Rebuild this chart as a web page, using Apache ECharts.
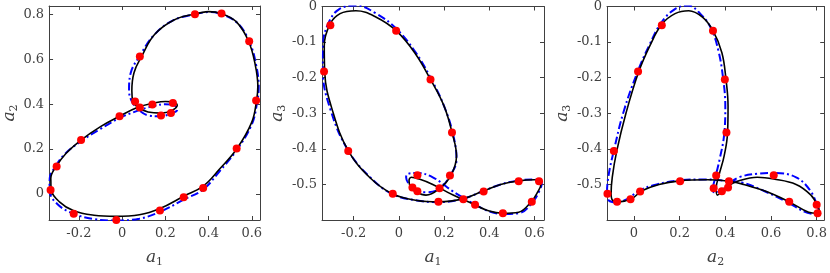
<!DOCTYPE html>
<html>
<head>
<meta charset="utf-8">
<script src="https://cdn.jsdelivr.net/npm/echarts@6/dist/echarts.min.js"></script>
<style>
  html, body { margin: 0; padding: 0; background: #fff; }
  #chart { width: 830px; height: 273px; }
</style>
</head>
<body>
<div id="chart"></div>
<script>
// black solid trajectory (a1, a2, a3), time ordered, closed
var blackA1 = [0.337, 0.40, 0.46, 0.53, 0.585, 0.615, 0.628, 0.622, 0.60, 0.53, 0.45, 0.375, 0.285, 0.175, 0.08, -0.03, -0.13, -0.224, -0.29, -0.328, -0.33, -0.305, -0.26, -0.19, -0.10, -0.012, 0.07, 0.14, 0.20, 0.235, 0.255, 0.23, 0.18, 0.12, 0.075, 0.05, 0.045, 0.055, 0.09, 0.15, 0.24, 0.337];
var blackA2 = [0.80, 0.812, 0.803, 0.765, 0.68, 0.58, 0.48, 0.416, 0.32, 0.20, 0.11, 0.035, -0.01, -0.065, -0.093, -0.10, -0.095, -0.075, -0.035, 0.02, 0.07, 0.122, 0.18, 0.24, 0.30, 0.346, 0.385, 0.403, 0.412, 0.41, 0.395, 0.372, 0.36, 0.365, 0.385, 0.412, 0.46, 0.54, 0.612, 0.71, 0.775, 0.80];
var blackA3 = [-0.557, -0.575, -0.581, -0.578, -0.549, -0.52, -0.50, -0.491, -0.487, -0.49, -0.50, -0.518, -0.54, -0.549, -0.545, -0.526, -0.48, -0.405, -0.30, -0.185, -0.11, -0.05, -0.02, -0.012, -0.03, -0.068, -0.13, -0.205, -0.28, -0.354, -0.42, -0.475, -0.511, -0.53, -0.52, -0.505, -0.49, -0.48, -0.485, -0.50, -0.53, -0.557];

// blue dash-dot trajectory
var blueA1 = [0.337, 0.40, 0.46, 0.535, 0.59, 0.62, 0.632, 0.625, 0.60, 0.53, 0.45, 0.375, 0.285, 0.175, 0.08, -0.03, -0.13, -0.224, -0.30, -0.336, -0.335, -0.31, -0.265, -0.19, -0.10, -0.012, 0.07, 0.14, 0.20, 0.24, 0.255, 0.226, 0.178, 0.12, 0.07, 0.045, 0.032, 0.04, 0.08, 0.15, 0.24, 0.337];
var blueA2 = [0.80, 0.81, 0.80, 0.76, 0.675, 0.575, 0.475, 0.41, 0.31, 0.195, 0.10, 0.02, -0.025, -0.08, -0.11, -0.118, -0.112, -0.088, -0.045, 0.018, 0.07, 0.12, 0.178, 0.235, 0.29, 0.338, 0.37, 0.39, 0.40, 0.395, 0.375, 0.358, 0.346, 0.35, 0.38, 0.412, 0.46, 0.54, 0.612, 0.71, 0.775, 0.80];
var blueA3 = [-0.557, -0.576, -0.583, -0.58, -0.551, -0.52, -0.495, -0.49, -0.486, -0.489, -0.50, -0.518, -0.54, -0.55, -0.545, -0.527, -0.478, -0.405, -0.295, -0.18, -0.105, -0.045, -0.008, 0.003, -0.02, -0.062, -0.125, -0.2, -0.28, -0.36, -0.43, -0.476, -0.513, -0.522, -0.518, -0.50, -0.48, -0.47, -0.468, -0.48, -0.52, -0.557];

// red sample points
var dotA1 = [0.337, 0.46, 0.588, 0.62, 0.53, 0.375, 0.285, 0.175, -0.027, -0.224, -0.331, -0.303, -0.19, -0.012, 0.14, 0.235, 0.226, 0.18, 0.082, 0.06, 0.082];
var dotA2 = [0.80, 0.804, 0.68, 0.416, 0.202, 0.027, -0.015, -0.074, -0.116, -0.088, 0.018, 0.122, 0.24, 0.346, 0.398, 0.405, 0.36, 0.349, 0.385, 0.412, 0.612];
var dotA3 = [-0.557, -0.581, -0.549, -0.491, -0.491, -0.52, -0.542, -0.549, -0.526, -0.406, -0.183, -0.053, 0.01, -0.068, -0.205, -0.354, -0.475, -0.511, -0.519, -0.509, -0.474];

var panels = [
    {x: [blackA1, blueA1, dotA1], y: [blackA2, blueA2, dotA2], xs: '1', ys: '2',
        xmin: -0.338, xmax: 0.638, ymin: -0.116, ymax: 0.837,
        xticks: [-0.2, 0, 0.2, 0.4, 0.6], yticks: [0, 0.2, 0.4, 0.6, 0.8],
        left: 38, width: 222, nameGap: 24},
    {x: [blackA1, blueA1, dotA1], y: [blackA3, blueA3, dotA3], xs: '1', ys: '3',
        xmin: -0.34, xmax: 0.642, ymin: -0.6, ymax: 0,
        xticks: [-0.2, 0, 0.2, 0.4, 0.6], yticks: [-0.5, -0.4, -0.3, -0.2, -0.1, 0],
        left: 322, width: 222, nameGap: 34},
    {x: [blackA2, blueA2, dotA2], y: [blackA3, blueA3, dotA3], xs: '2', ys: '3',
        xmin: -0.118, xmax: 0.833, ymin: -0.6, ymax: 0,
        xticks: [0, 0.2, 0.4, 0.6, 0.8], yticks: [-0.5, -0.4, -0.3, -0.2, -0.1, 0],
        left: 607, width: 221, nameGap: 34}
];

var axisColor = '#404040';
var font = 'DejaVu Serif';
var rich = {
    i: {fontFamily: font, fontStyle: 'italic', fontSize: 17, color: axisColor},
    s: {fontFamily: font, fontSize: 11, color: axisColor, padding: [9, 0, 0, 0]}
};
var labelRich = {t: {fontFamily: font, fontSize: 13, color: axisColor}};

function tickText(v) {
    return '{t|' + v + '}';
}

function zip(a, b) {
    var out = [];
    for (var k = 0; k < a.length; k++) out.push([a[k], b[k]]);
    return out;
}

var grids = [], xAxes = [], yAxes = [], series = [];

panels.forEach(function (p, n) {
    grids.push({left: p.left, top: 6, width: p.width, height: 227});
    var tick = {inside: true, length: 4, lineStyle: {color: axisColor, width: 1}};
    var line = {show: true, onZero: false, lineStyle: {color: axisColor, width: 1}};
    xAxes.push({
        type: 'value', gridIndex: n, min: p.xmin, max: p.xmax, position: 'bottom',
        axisLine: line, splitLine: {show: false},
        axisTick: Object.assign({customValues: p.xticks}, tick),
        axisLabel: {customValues: p.xticks, margin: 7, formatter: tickText, rich: labelRich},
        name: '{i|a}{s|' + p.xs + '}', nameLocation: 'middle', nameGap: 28,
        nameTextStyle: {rich: rich}
    });
    xAxes.push({
        type: 'value', gridIndex: n, min: p.xmin, max: p.xmax, position: 'top',
        axisLine: line, splitLine: {show: false},
        axisTick: Object.assign({customValues: p.xticks}, tick),
        axisLabel: {show: false}
    });
    yAxes.push({
        type: 'value', gridIndex: n, min: p.ymin, max: p.ymax, position: 'left',
        axisLine: line, splitLine: {show: false},
        axisTick: Object.assign({customValues: p.yticks}, tick),
        axisLabel: {customValues: p.yticks, margin: 5, formatter: tickText, rich: labelRich},
        name: '{i|a}{s|' + p.ys + '}', nameLocation: 'middle', nameGap: p.nameGap, nameRotate: 90,
        nameTextStyle: {rich: rich}
    });
    yAxes.push({
        type: 'value', gridIndex: n, min: p.ymin, max: p.ymax, position: 'right',
        axisLine: line, splitLine: {show: false},
        axisTick: Object.assign({customValues: p.yticks}, tick),
        axisLabel: {show: false}
    });

    series.push({
        type: 'line', xAxisIndex: 2 * n, yAxisIndex: 2 * n,
        data: zip(p.x[1], p.y[1]), smooth: 0.4, showSymbol: false, clip: true,
        lineStyle: {color: '#0000ff', width: 2, type: [8, 3, 2, 3]}
    });
    series.push({
        type: 'line', xAxisIndex: 2 * n, yAxisIndex: 2 * n,
        data: zip(p.x[0], p.y[0]), smooth: 0.4, showSymbol: false, clip: true,
        lineStyle: {color: '#000000', width: 1.6}
    });
    series.push({
        type: 'scatter', xAxisIndex: 2 * n, yAxisIndex: 2 * n, z: 10,
        data: zip(p.x[2], p.y[2]), symbolSize: 8, clip: true,
        itemStyle: {color: '#ff0000', opacity: 1, borderWidth: 0}
    });
});

var chart = echarts.init(document.getElementById('chart'));
chart.setOption({
    animation: false,
    textStyle: {fontFamily: font},
    grid: grids,
    xAxis: xAxes,
    yAxis: yAxes,
    series: series
});
</script>
</body>
</html>
